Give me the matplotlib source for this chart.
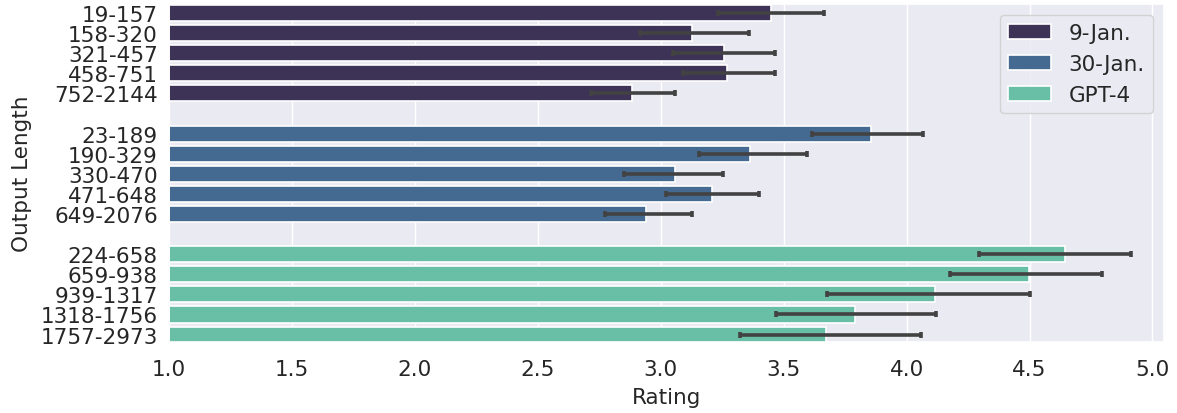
import numpy as np
import matplotlib
matplotlib.use("Agg")
import matplotlib.pyplot as plt
import seaborn as sns

groups = ["9-Jan.", "30-Jan.", "GPT-4"]
colours = ["#3d3356", "#456a92", "#69bea6"]

labels_jan9 = ["19-157", "158-320", "321-457", "458-751", "752-2144"]
labels_jan30 = ["23-189", "190-329", "330-470", "471-648", "649-2076"]
labels_gpt4 = ["224-658", "659-938", "939-1317", "1318-1756", "1757-2973"]

mean_jan9 = [3.447, 3.129, 3.258, 3.271, 2.883]
low_jan9 = [3.233, 2.914, 3.048, 3.089, 2.715]
high_jan9 = [3.662, 3.360, 3.464, 3.465, 3.059]

mean_jan30 = [3.857, 3.364, 3.059, 3.208, 2.939]
low_jan30 = [3.615, 3.155, 2.852, 3.020, 2.775]
high_jan30 = [4.066, 3.596, 3.253, 3.398, 3.127]

mean_gpt4 = [4.643, 4.496, 4.115, 3.790, 3.672]
low_gpt4 = [4.294, 4.176, 3.676, 3.470, 3.321]
high_gpt4 = [4.914, 4.794, 4.500, 4.118, 4.060]

sns.set_theme(style="darkgrid")
plt.rcParams['font.family'] = ['DejaVu Sans']
fs = 15.5

fig = plt.figure(figsize=(11.77, 4.14), dpi=100)
ax = fig.add_axes([0.1436, 0.1715, 0.8454, 0.8165])

data = [
    (labels_jan9, mean_jan9, low_jan9, high_jan9),
    (labels_jan30, mean_jan30, low_jan30, high_jan30),
    (labels_gpt4, mean_gpt4, low_gpt4, high_gpt4),
]

ticks, ticklabels = [], []
for g, (labs, m, lo, hi) in enumerate(data):
    y = np.arange(len(labs)) + g * (len(labs) + 1)
    m = np.array(m)
    err = np.vstack([m - np.array(lo), np.array(hi) - m])
    ax.barh(y, m - 1.0, left=1.0, height=0.8, color=colours[g],
            edgecolor="white", linewidth=1.2, label=groups[g], zorder=2)
    ax.errorbar(m, y, xerr=err, fmt="none", ecolor="#424242",
                elinewidth=2.6, capsize=2.5, capthick=2.6, zorder=3)
    ticks += list(y)
    ticklabels += labs

ax.set_yticks(ticks)
ax.set_yticklabels(ticklabels, fontsize=fs)
ax.set_ylim(16.37, -0.45)
ax.set_xlim(1.0, 5.047)
ax.set_xticks(np.arange(1.0, 5.01, 0.5))
ax.set_xticklabels([f"{v:.1f}" for v in np.arange(1.0, 5.01, 0.5)], fontsize=fs)
ax.tick_params(axis="y", pad=2)
ax.tick_params(axis="x", pad=6)
ax.grid(axis="y", visible=False)
ax.set_xlabel("Rating", fontsize=fs, labelpad=6)
ax.set_ylabel("Output Length", fontsize=fs, labelpad=6)
ax.legend(loc="upper right", fontsize=fs)

fig.savefig("out.png", dpi=100)
